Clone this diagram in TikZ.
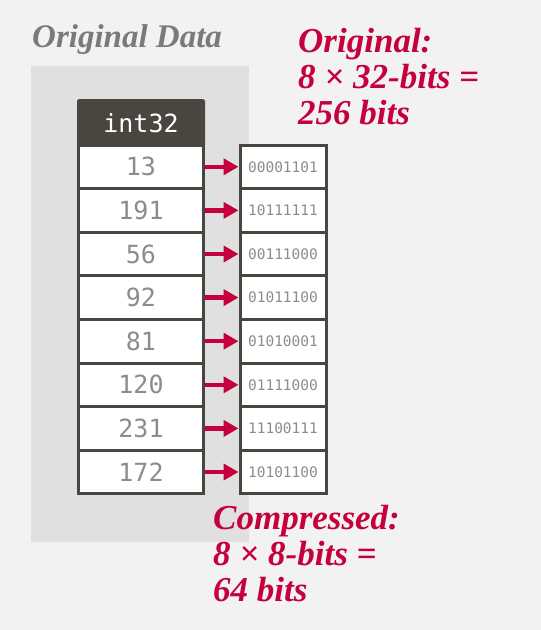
\documentclass[tikz,border=0pt]{standalone}
\usepackage{fontspec}
\setmainfont{Liberation Serif}
\setmonofont{DejaVu Sans Mono}
\usetikzlibrary{arrows.meta, positioning}
\definecolor{bggray}{HTML}{F2F2F2}
\definecolor{panelgray}{HTML}{E0E0E0}
\definecolor{darkbox}{HTML}{48463F}
\definecolor{numgray}{HTML}{8C8C8C}
\definecolor{titlegray}{HTML}{7A7A7A}
\definecolor{crimson}{HTML}{C5003C}
\begin{document}
\begin{tikzpicture}[x=1pt, y=-1pt,
	>={Triangle[length=15pt, width=16pt]},   %Pfeilspitzen
	valcell/.style={draw=darkbox, line width=3pt, fill=white, minimum width=125pt, minimum height=43.6pt, inner sep=0pt,
		text=numgray, font=\ttfamily\fontsize{25}{25}\selectfont},
	bitcell/.style={draw=darkbox, line width=3pt, fill=white, minimum width=86pt, minimum height=43.6pt, inner sep=0pt,
		text=numgray, font=\ttfamily\fontsize{14.5}{14.5}\selectfont},
	note/.style={text=crimson, font=\bfseries\itshape\fontsize{35}{36}\selectfont, align=left, inner sep=0pt}]
	% Hintergrund
	\fill[bggray] (0,0) rectangle (541,630);
	\useasboundingbox (0,0) rectangle (541,630);
	\fill[panelgray] (31,66) rectangle (249,542);
	% Titel
	\node[anchor=base west, inner sep=0pt, text=titlegray, font=\bfseries\itshape\fontsize{33}{33}\selectfont] (title) at (32,47) {Original Data};
	% Kopfzeile
	\node[valcell, fill=darkbox, minimum height=44.5pt, text=white, rounded corners=1pt] (head) at (141,122.75) {int32};
	% Werte und Bits
	\foreach \v/\b [count=\i] in {13/00001101, 191/10111111, 56/00111000, 92/01011100,
		81/01010001, 120/01111000, 231/11100111, 172/10101100} {
		\node[valcell] (v\i) at (141,{145+43.6*(\i-1)+21.8}) {\v};
		\node[bitcell] (b\i) at (283,{145+43.6*(\i-1)+21.8}) {\b};
		\draw[->, crimson, line width=4.5pt] (v\i.east) -- (b\i.west);
	}
	% Anmerkungen (base = letzte Zeile)
	\node[note, anchor=base west] (orig) at (298,124) {Original:\\8 × 32-bits =\\256 bits};
	\node[note, anchor=base west] (comp) at (213,601) {Compressed:\\8 × 8-bits =\\64 bits};
\end{tikzpicture}
\end{document}
